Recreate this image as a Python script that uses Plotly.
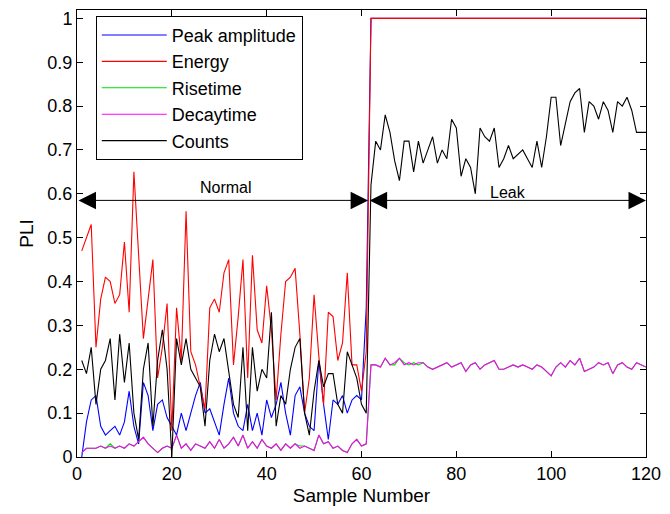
import plotly.graph_objects as go

samples = list(range(1, 121))

peak_amplitude = [
    0.00, 0.08, 0.13, 0.14, 0.07, 0.05, 0.06, 0.07, 0.05, 0.08,
    0.15, 0.07, 0.03, 0.17, 0.14, 0.06, 0.12, 0.13, 0.09, 0.07,
    0.05, 0.10, 0.06, 0.10, 0.14, 0.17, 0.10, 0.11, 0.08, 0.05,
    0.12, 0.18, 0.10, 0.07, 0.06, 0.12, 0.06, 0.10, 0.05, 0.13,
    0.09, 0.12, 0.17, 0.10, 0.05, 0.14, 0.16, 0.10, 0.07, 0.06,
    0.22, 0.12, 0.04, 0.13, 0.12, 0.14, 0.10, 0.13, 0.14, 0.13,
    0.34, 1.0,
] + [1.0] * 58

energy = [
    0.47, 0.50, 0.53, 0.25, 0.36, 0.41, 0.40, 0.35, 0.37, 0.49,
    0.33, 0.65, 0.46, 0.27, 0.36, 0.45, 0.18, 0.25, 0.35, 0.06,
    0.34, 0.22, 0.56, 0.24, 0.21, 0.16, 0.11, 0.34, 0.36, 0.33,
    0.42, 0.45, 0.21, 0.32, 0.45, 0.18, 0.46, 0.29, 0.26, 0.39,
    0.29, 0.13, 0.28, 0.40, 0.41, 0.43, 0.28, 0.10, 0.18, 0.37,
    0.23, 0.12, 0.33, 0.32, 0.22, 0.26, 0.42, 0.21, 0.21, 0.15,
    0.24,
] + [1.0] * 59

risetime = [
    0.01, 0.02, 0.02, 0.02, 0.025, 0.02, 0.03, 0.02, 0.025, 0.02,
    0.03, 0.025, 0.035, 0.045, 0.03, 0.02, 0.01, 0.02, 0.025, 0.02,
    0.05, 0.02, 0.03, 0.015, 0.03, 0.025, 0.02, 0.035, 0.02, 0.04,
    0.02, 0.03, 0.045, 0.025, 0.05, 0.02, 0.035, 0.02, 0.04, 0.025,
    0.02, 0.03, 0.015, 0.03, 0.02, 0.03, 0.025, 0.025, 0.02, 0.015,
    0.05, 0.03, 0.035, 0.02, 0.025, 0.015, 0.01, 0.03, 0.04, 0.025,
    0.03, 0.21,
    0.21, 0.205, 0.225, 0.21, 0.21, 0.225, 0.215, 0.21, 0.215, 0.21,
    0.215, 0.205, 0.20, 0.205, 0.21, 0.215, 0.205, 0.21, 0.215, 0.195,
    0.21, 0.215, 0.20, 0.21, 0.215, 0.22, 0.20, 0.20, 0.205, 0.21,
    0.205, 0.21, 0.205, 0.20, 0.21, 0.205, 0.195, 0.185, 0.205, 0.215,
    0.205, 0.22, 0.21, 0.225, 0.195, 0.20, 0.205, 0.215, 0.21, 0.215,
    0.19, 0.21, 0.215, 0.205, 0.20, 0.215, 0.21, 0.205,
]

decaytime = [
    0.01, 0.02, 0.02, 0.02, 0.025, 0.02, 0.025, 0.02, 0.025, 0.02,
    0.03, 0.025, 0.035, 0.045, 0.03, 0.02, 0.01, 0.02, 0.025, 0.02,
    0.05, 0.02, 0.03, 0.015, 0.03, 0.025, 0.02, 0.035, 0.02, 0.04,
    0.02, 0.03, 0.045, 0.025, 0.05, 0.02, 0.035, 0.02, 0.04, 0.025,
    0.02, 0.03, 0.015, 0.03, 0.02, 0.03, 0.02, 0.025, 0.02, 0.015,
    0.05, 0.03, 0.035, 0.02, 0.025, 0.015, 0.01, 0.03, 0.04, 0.025,
    0.03, 0.21,
    0.21, 0.205, 0.225, 0.21, 0.215, 0.225, 0.21, 0.215, 0.21, 0.215,
    0.215, 0.205, 0.20, 0.205, 0.21, 0.215, 0.205, 0.21, 0.215, 0.195,
    0.21, 0.215, 0.20, 0.21, 0.215, 0.22, 0.20, 0.20, 0.205, 0.21,
    0.205, 0.21, 0.205, 0.20, 0.21, 0.205, 0.195, 0.185, 0.205, 0.215,
    0.205, 0.22, 0.21, 0.225, 0.195, 0.20, 0.205, 0.215, 0.21, 0.215,
    0.19, 0.21, 0.215, 0.205, 0.20, 0.215, 0.21, 0.205,
]

counts = [
    0.22, 0.19, 0.25, 0.12, 0.20, 0.22, 0.27, 0.13, 0.28, 0.17,
    0.26, 0.10, 0.04, 0.20, 0.26, 0.07, 0.22, 0.29, 0.20, 0.00,
    0.27, 0.21, 0.27, 0.20, 0.18, 0.16, 0.07, 0.22, 0.28, 0.24,
    0.27, 0.20, 0.12, 0.09, 0.25, 0.06, 0.25, 0.15, 0.20, 0.18,
    0.33, 0.07, 0.14, 0.12, 0.20, 0.25, 0.27, 0.10, 0.05, 0.15,
    0.22, 0.16, 0.19, 0.19, 0.12, 0.10, 0.24, 0.21, 0.18, 0.12,
    0.10, 0.62,
    0.72, 0.70, 0.78, 0.74, 0.675, 0.63, 0.72, 0.72, 0.65, 0.72,
    0.67, 0.70, 0.73, 0.67, 0.70, 0.68, 0.77, 0.75, 0.64, 0.68,
    0.66, 0.60, 0.75, 0.73, 0.72, 0.75, 0.66, 0.68, 0.71, 0.68,
    0.69, 0.70, 0.68, 0.66, 0.72, 0.66, 0.73, 0.82, 0.82, 0.71,
    0.76, 0.81, 0.83, 0.84, 0.74, 0.81, 0.80, 0.77, 0.81, 0.79,
    0.74, 0.81, 0.80, 0.82, 0.79, 0.74, 0.74, 0.74,
]

series_names = ["Peak amplitude", "Energy", "Risetime", "Decaytime", "Counts"]
series_values = [peak_amplitude, energy, risetime, decaytime, counts]
series_colors = ["#0000ff", "#ff0000", "#00dd00", "#ff00ff", "#000000"]

x_ticks = [0, 20, 40, 60, 80, 100, 120]
region_labels = ["Normal", "Leak"]
region_bounds = [(0, 61.4), (61.4, 120)]
region_label_pos = [(31.4, 0.614), (91, 0.603)]
arrow_level = 0.585

FONT = "Liberation Sans, Arial, sans-serif"

fig = go.Figure()
for name, vals, col in zip(series_names, series_values, series_colors):
    fig.add_trace(go.Scatter(x=samples, y=vals, mode="lines", name=name,
                             line=dict(color=col, width=1.1)))

annotations = []
for (a, b) in region_bounds:
    annotations.append(dict(x=b, y=arrow_level, ax=a, ay=arrow_level,
                            xref="x", yref="y", axref="x", ayref="y",
                            text="", showarrow=True, arrowside="end+start",
                            arrowhead=2, startarrowhead=2, arrowsize=3.5,
                            startarrowsize=3.5, arrowwidth=1, arrowcolor="black"))
for lab, (lx, ly) in zip(region_labels, region_label_pos):
    annotations.append(dict(x=lx, y=ly, xref="x", yref="y", text=lab,
                            showarrow=False, font=dict(family=FONT, size=16, color="black")))

axis_common = dict(showline=True, linecolor="black", linewidth=1, mirror="ticks",
                   ticks="inside", ticklen=6, tickcolor="black", showgrid=False,
                   zeroline=False, tickfont=dict(family=FONT, size=18, color="black"))

fig.update_layout(
    width=670, height=514,
    margin=dict(l=77, r=17, t=9, b=57),
    paper_bgcolor="white", plot_bgcolor="white",
    font=dict(family=FONT, size=18, color="black"),
    xaxis=dict(range=[0, 120], tickvals=x_ticks,
               title=dict(text="Sample Number", font=dict(family=FONT, size=19), standoff=6),
               **axis_common),
    yaxis=dict(range=[0, 1.019], tickmode="linear", tick0=0, dtick=0.1,
               title=dict(text="PLI", font=dict(family=FONT, size=19), standoff=8),
               **axis_common),
    legend=dict(x=0.033, y=0.987, xanchor="left", yanchor="top",
                bgcolor="white", bordercolor="black", borderwidth=1,
                font=dict(family=FONT, size=18, color="black"), itemwidth=65),
    annotations=annotations,
    showlegend=True,
)

fig.write_html("out.html")
